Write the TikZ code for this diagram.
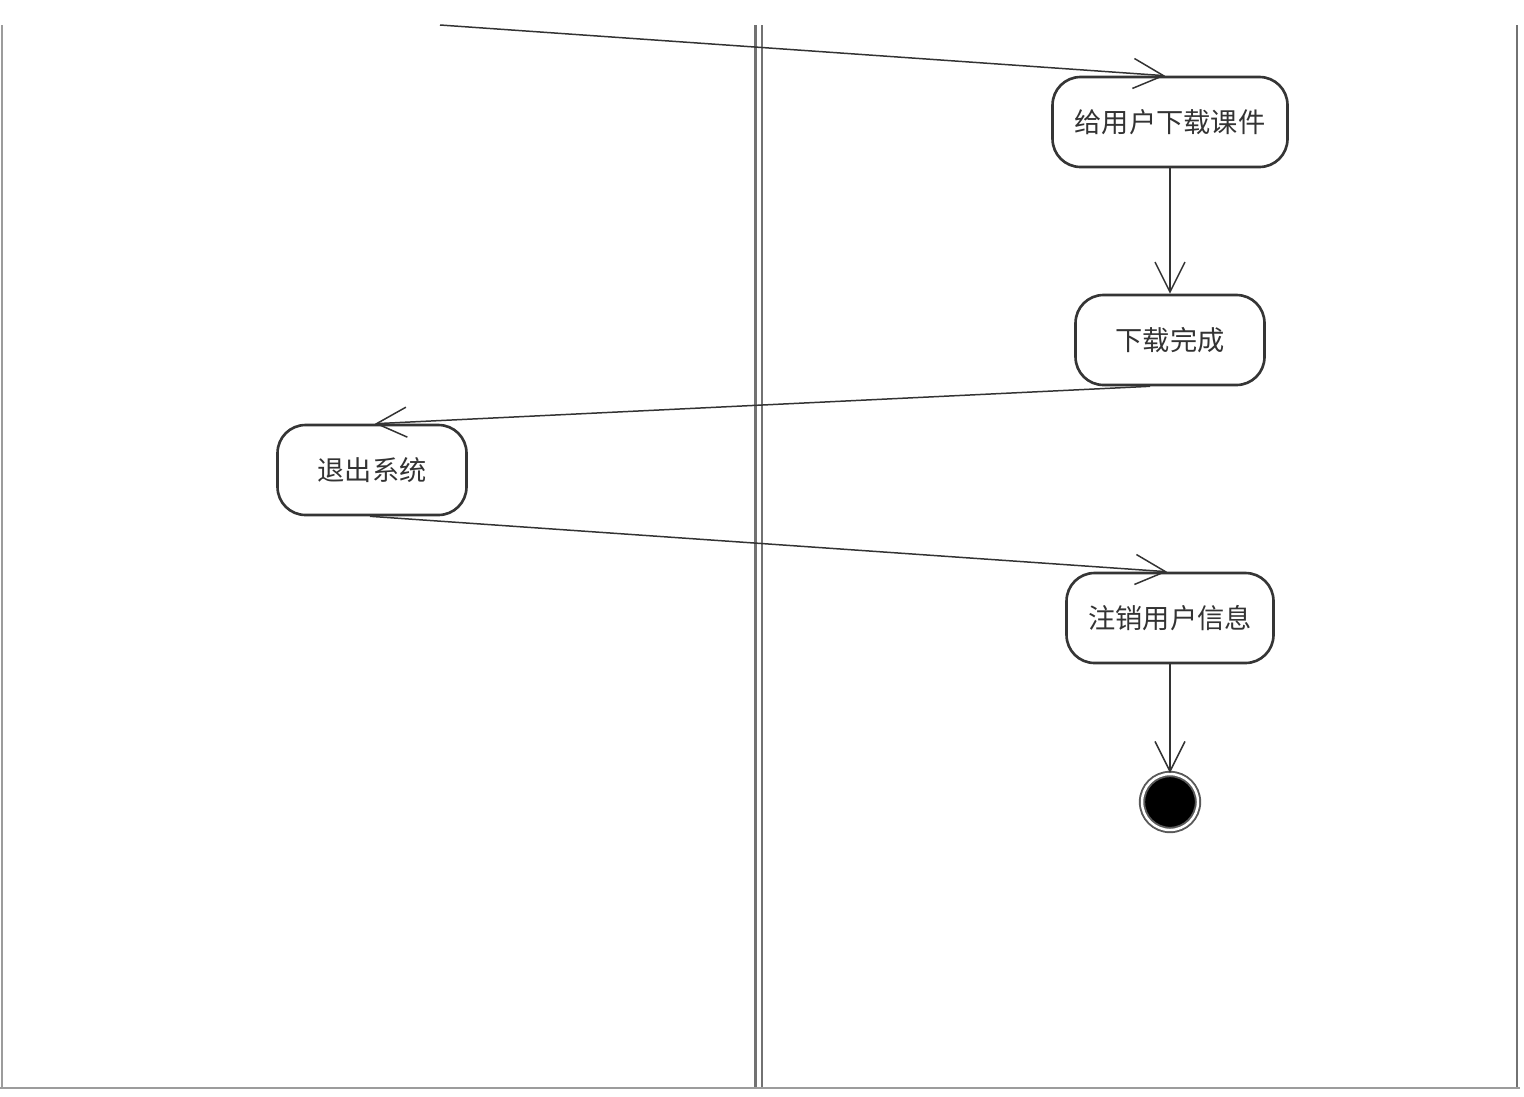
\documentclass[tikz,border=0pt]{standalone}
\usepackage{fontspec}
\newfontfamily\cjk{Noto Sans CJK SC}
\usetikzlibrary{arrows.meta}
\definecolor{ink}{HTML}{353535}
\definecolor{wire}{HTML}{333333}
\definecolor{lanegray}{HTML}{727272}
\tikzset{
  act/.style={draw=ink,line width=1.5pt,rounded corners=0.56cm,fill=white,
    minimum height=1.8cm,font=\cjk\fontsize{15.5pt}{18pt}\selectfont,text=black!80},
  final/.style={circle,fill=black,draw=black!65,double=white,double distance=1.4pt,
    line width=1.1pt,minimum size=1.12cm,inner sep=0pt},
  arr/.style={-{Straight Barb[length=6mm,width=6mm]},line width=0.85pt,draw=wire},
  lane/.style={draw=lanegray,line width=1.3pt},
}
\begin{document}
\begin{tikzpicture}[x=0.02cm,y=-0.02cm]
  \useasboundingbox (0,0) rectangle (1524,1096);
  % swimlanes
  \draw[lane,draw=lanegray!70] (2,25) -- (2,1088);
  \draw[lane] (755.5,25) -- (755.5,1088);
  \draw[lane] (762,25) -- (762,1088);
  \draw[lane] (1517,25) -- (1517,1088);
  \draw[lane,draw=lanegray!70] (0,1088) -- (1520,1088);
  % activities
  \coordinate (in) at (440,25);
  \node[act,minimum width=4.7cm] (give) at (1170,122) {给用户下载课件};
  \node[act,minimum width=3.78cm] (done) at (1170,340) {下载完成};
  \node[act,minimum width=3.78cm] (quit) at (372,470) {退出系统};
  \node[act,minimum width=4.14cm] (logout) at (1170,618) {注销用户信息};
  \node[final] (end) at (1170,802) {};
  \draw[arr] (in) -- ([xshift=-1mm]give.north);
  \draw[arr] (give) -- (done);
  \draw[arr] ([xshift=-4mm]done.south) -- ([xshift=0.6mm]quit.north);
  \draw[arr] ([xshift=-0.4mm]quit.south) -- ([xshift=-0.6mm]logout.north);
  \draw[arr] (logout) -- (end);
\end{tikzpicture}
\end{document}
